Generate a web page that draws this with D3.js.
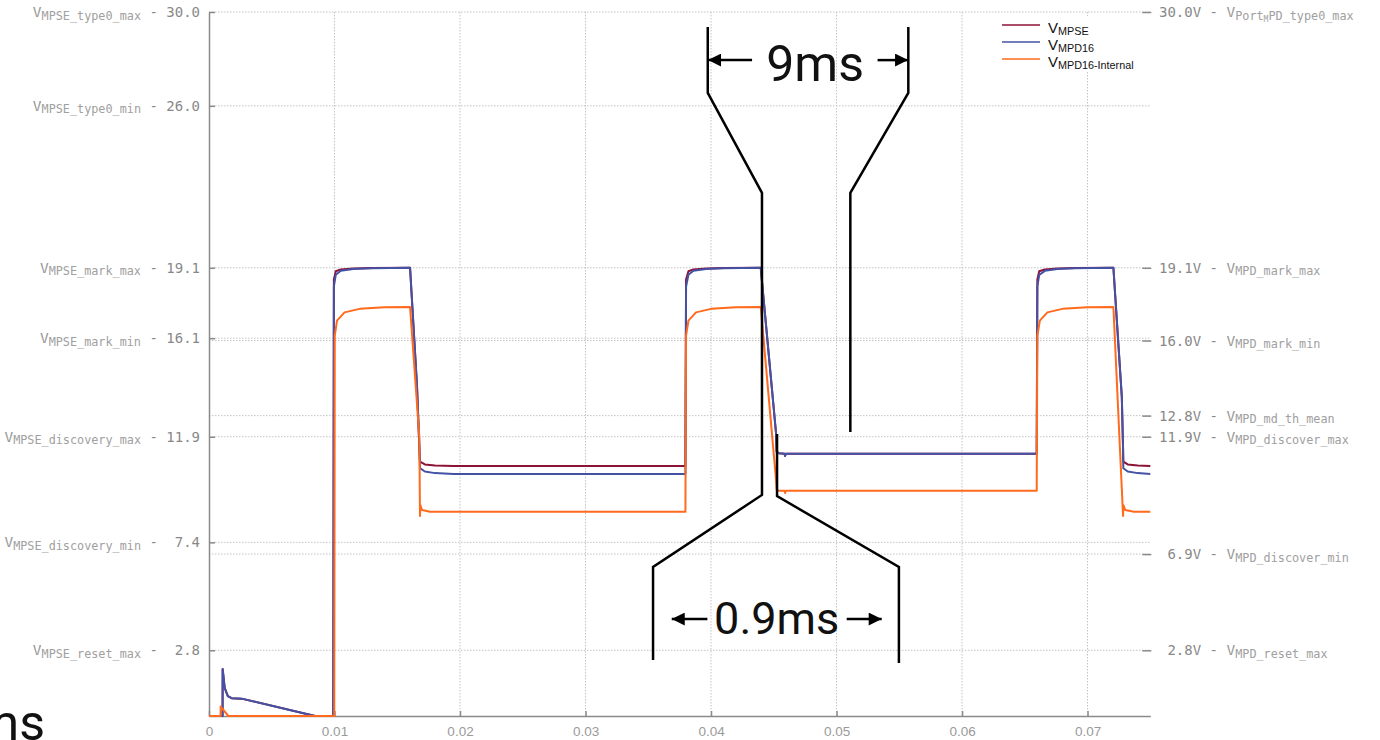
<!DOCTYPE html>
<html>
<head>
<meta charset="utf-8">
<script src="https://cdn.jsdelivr.net/npm/d3@7"></script>
<style>
  html, body { margin: 0; padding: 0; background: #fff; overflow: hidden; }
  svg { display: block; }
  text { white-space: pre; }
</style>
</head>
<body>
<svg id="chart" width="1380" height="740"></svg>
<script>
// left axis: PSE side thresholds
const leftTicks = [30.0, 26.0, 19.1, 16.1, 11.9, 7.4, 2.8];
const leftLabels = ["30.0", "26.0", "19.1", "16.1", "11.9", " 7.4", " 2.8"];
const leftNames = ["MPSE_type0_max", "MPSE_type0_min", "MPSE_mark_max", "MPSE_mark_min",
                   "MPSE_discovery_max", "MPSE_discovery_min", "MPSE_reset_max"];

// right axis: PD side thresholds ("|" splits a nested subscript)
const rightTicks = [30.0, 19.1, 16.0, 12.8, 11.9, 6.9, 2.8];
const rightLabels = ["30.0V", "19.1V", "16.0V", "12.8V", "11.9V", " 6.9V", " 2.8V"];
const rightNames = ["Port|M|PD_type0_max", "MPD_mark_max", "MPD_mark_min", "MPD_md_th_mean",
                    "MPD_discover_max", "MPD_discover_min", "MPD_reset_max"];

// time axis (seconds)
const timeTicks = [0, 0.01, 0.02, 0.03, 0.04, 0.05, 0.06, 0.07];

// series: [time (s), volts]
const vMPSE = [
  [0, 0], [0.00108, 0], [0.00109, 2.0], [0.00125, 1.2], [0.0015, 0.85], [0.0018, 0.76], [0.0026, 0.74],
  [0.00845, 0], [0.0099, 0],
  [0.00995, 18.6], [0.0101, 18.95], [0.0105, 19.03], [0.0115, 19.07], [0.013, 19.09], [0.01602, 19.1],
  [0.01657, 14.1], [0.01677, 11.33], [0.01681, 10.84], [0.0172, 10.72], [0.018, 10.67], [0.0195, 10.65],
  [0.03796, 10.65],
  [0.03801, 18.6], [0.0382, 18.95], [0.0386, 19.03], [0.0396, 19.07], [0.041, 19.09], [0.04396, 19.1],
  [0.04518, 12.05], [0.04523, 11.26], [0.0454, 11.2], [0.04586, 11.18], [0.0459, 11.08], [0.04596, 11.18],
  [0.06595, 11.18],
  [0.066, 18.6], [0.06615, 18.95], [0.0666, 19.03], [0.0676, 19.07], [0.069, 19.09], [0.07206, 19.1],
  [0.07273, 13.6], [0.07283, 11.4], [0.07285, 10.84], [0.0732, 10.72], [0.074, 10.67], [0.075, 10.65]
];

const vMPD16 = [
  [0, 0], [0.00108, 0], [0.00109, 2.0], [0.00125, 1.2], [0.0015, 0.85], [0.0018, 0.76], [0.0026, 0.74],
  [0.00845, 0], [0.0099, 0],
  [0.00995, 18.3], [0.0101, 18.8], [0.0105, 18.97], [0.0115, 19.05], [0.013, 19.08], [0.01602, 19.1],
  [0.01657, 14.1], [0.01677, 11.33], [0.01681, 10.56], [0.0172, 10.42], [0.018, 10.35], [0.0195, 10.31],
  [0.03796, 10.31],
  [0.03801, 18.3], [0.0382, 18.8], [0.0386, 18.97], [0.0396, 19.05], [0.041, 19.08], [0.04396, 19.1],
  [0.04518, 12.05], [0.04523, 11.26], [0.0454, 11.2], [0.04586, 11.18], [0.0459, 11.08], [0.04596, 11.18],
  [0.06595, 11.18],
  [0.066, 18.3], [0.06615, 18.8], [0.0666, 18.97], [0.0676, 19.05], [0.069, 19.08], [0.07206, 19.1],
  [0.07273, 13.6], [0.07283, 11.4], [0.07285, 10.56], [0.0732, 10.42], [0.074, 10.35], [0.075, 10.31]
];

const vMPD16Internal = [
  [0, 0], [0.00092, 0], [0.00093, 0.4], [0.00154, 0], [0.00998, 0],
  [0.01002, 16.2], [0.0102, 16.85], [0.0108, 17.2], [0.012, 17.35], [0.014, 17.42], [0.01602, 17.43],
  [0.01676, 11.89], [0.01681, 8.52], [0.01684, 8.99], [0.01697, 8.78], [0.01761, 8.7], [0.03796, 8.7],
  [0.03801, 16.2], [0.0382, 16.85], [0.0388, 17.2], [0.040, 17.35], [0.042, 17.42], [0.04396, 17.43],
  [0.04518, 10.06], [0.04523, 9.63], [0.0454, 9.6], [0.04586, 9.6], [0.0459, 9.5], [0.04596, 9.6],
  [0.06595, 9.6],
  [0.066, 16.2], [0.0662, 16.85], [0.0668, 17.2], [0.068, 17.35], [0.070, 17.42], [0.07206, 17.43],
  [0.07283, 8.52], [0.07286, 8.99], [0.073, 8.78], [0.0737, 8.7], [0.075, 8.7]
];

const seriesNames = ["MPSE", "MPD16", "MPD16-Internal"];
const seriesColors = ["#8c1236", "#4452a6", "#ff6a1c"];

// timing annotation brackets, [time, volts]
const bracketLeft = [[0.03974, 29.36], [0.03974, 26.55], [0.04406, 22.29], [0.04406, 9.42], [0.03538, 6.35], [0.03538, 2.39]];
const bracketRightTop = [[0.05572, 29.36], [0.05572, 26.55], [0.05110, 22.29], [0.05110, 12.10]];
const bracketRightBottom = [[0.04526, 12.02], [0.04526, 9.37], [0.05497, 6.35], [0.05497, 2.26]];
const arrows = [
  [[0.04327, 27.95], [0.03976, 27.95]],
  [[0.05327, 27.95], [0.05570, 27.95]],
  [[0.03971, 4.13], [0.03687, 4.13]],
  [[0.05081, 4.13], [0.05360, 4.13]]
];
const timingLabels = [["9ms", 0.04829, 27.06, 50], ["0.9ms", 0.04523, 3.49, 45]];

const svg = d3.select("#chart");
const plotLeft = 209, plotRight = 1150.3, plotTop = 12, plotBottom = 716;

const x = d3.scaleLinear().domain([0, 0.075]).range([plotLeft, plotRight]);
const y = d3.scaleLinear().domain([0, 30]).range([plotBottom, plotTop]);

const mono = "'DejaVu Sans Mono', monospace";
const sans = "'Liberation Sans', Arial, sans-serif";

// grid
const grid = svg.append("g").attr("stroke", "#c4c4c4").attr("stroke-width", 1).attr("stroke-dasharray", "1.5,1.5");
const gridLevels = Array.from(new Set(leftTicks.concat(rightTicks)));
grid.selectAll(".hg").data(gridLevels).join("line").attr("class", "hg")
  .attr("x1", plotLeft).attr("x2", plotRight)
  .attr("y1", d => y(d)).attr("y2", d => y(d));
grid.selectAll(".vg").data(timeTicks.slice(1)).join("line").attr("class", "vg")
  .attr("x1", d => x(d)).attr("x2", d => x(d))
  .attr("y1", plotTop).attr("y2", plotBottom);

// axes
const axisColor = "#8a8a8a";
const bottomAxis = svg.append("g")
  .attr("transform", "translate(0," + plotBottom + ")")
  .call(d3.axisBottom(x).tickValues(timeTicks).tickSizeInner(-5).tickSizeOuter(0).tickPadding(10)
    .tickFormat(d => d === 0 ? "0" : d3.format(".2f")(d)));
bottomAxis.select(".domain").attr("stroke", axisColor).attr("stroke-width", 1.5);
bottomAxis.selectAll(".tick line").attr("stroke", axisColor).attr("stroke-width", 1.5);
bottomAxis.selectAll(".tick text").attr("fill", "#9a9a9a").attr("font-family", sans).attr("font-size", 13.5);

const leftAxis = svg.append("g")
  .attr("transform", "translate(" + plotLeft + ",0)")
  .call(d3.axisLeft(y).tickValues(leftTicks).tickSizeInner(-6).tickSizeOuter(0).tickFormat(""));
leftAxis.select(".domain").attr("stroke", axisColor).attr("stroke-width", 1.5);
leftAxis.selectAll(".tick line").attr("stroke", axisColor).attr("stroke-width", 1.5);

const rightAxis = svg.append("g")
  .attr("transform", "translate(" + (plotRight + 1) + ",0)")
  .call(d3.axisRight(y).tickValues(rightTicks).tickSizeInner(-9).tickSizeOuter(0).tickFormat(""));
rightAxis.select(".domain").remove();
rightAxis.selectAll(".tick line").attr("stroke", axisColor).attr("stroke-width", 1.5);

// left labels
leftTicks.forEach((v, i) => {
  const t = svg.append("text")
    .attr("x", 200).attr("y", y(v) + 5)
    .attr("text-anchor", "end").attr("font-family", mono).attr("fill", "#888");
  t.append("tspan").attr("font-size", 14.5).attr("fill", "#999").text("V");
  t.append("tspan").attr("font-size", 11.8).attr("dy", 2.5).attr("fill", "#a0a0a0").text(leftNames[i]);
  t.append("tspan").attr("font-size", 14).attr("dy", -2.5).text(" - " + leftLabels[i]);
});

// right labels
rightTicks.forEach((v, i) => {
  const t = svg.append("text")
    .attr("x", 1159).attr("y", y(v) + 5)
    .attr("font-family", mono).attr("fill", "#888");
  t.append("tspan").attr("font-size", 14).text(rightLabels[i] + " - ");
  t.append("tspan").attr("font-size", 14.5).attr("fill", "#999").text("V");
  const parts = rightNames[i].split("|");
  if (parts.length === 1) {
    t.append("tspan").attr("font-size", 11.8).attr("dy", 2.5).attr("fill", "#a0a0a0").text(parts[0]);
  } else {
    t.append("tspan").attr("font-size", 11.8).attr("dy", 2.5).attr("fill", "#a0a0a0").text(parts[0]);
    t.append("tspan").attr("font-size", 8).attr("dy", 2).attr("fill", "#a0a0a0").text(parts[1]);
    t.append("tspan").attr("font-size", 11.8).attr("dy", -2).attr("fill", "#a0a0a0").text(parts[2]);
  }
});

// legend
const legend = svg.append("g");
legend.append("rect").attr("x", 996).attr("y", 16).attr("width", 146).attr("height", 56).attr("fill", "#fff");
seriesNames.forEach((name, i) => {
  const ly = 25 + i * 17;
  legend.append("line").attr("x1", 1002).attr("x2", 1040).attr("y1", ly).attr("y2", ly)
    .attr("stroke", seriesColors[i]).attr("stroke-width", 1.5);
  const t = legend.append("text").attr("x", 1048).attr("y", ly + 8)
    .attr("font-family", sans).attr("fill", "#111");
  t.append("tspan").attr("font-size", 15).text("V");
  t.append("tspan").attr("font-size", 10.8).attr("dy", 2).text(name);
});

// waveforms
const line = d3.line().x(d => x(d[0])).y(d => y(d[1]));
[vMPSE, vMPD16, vMPD16Internal].forEach((data, i) => {
  svg.append("path")
    .datum(data)
    .attr("fill", "none")
    .attr("stroke", seriesColors[i])
    .attr("stroke-width", 2)
    .attr("stroke-linejoin", "round")
    .attr("d", line);
});

// timing annotations
svg.append("defs").append("marker")
  .attr("id", "arrowhead").attr("viewBox", "0 0 10 10")
  .attr("refX", 10).attr("refY", 5)
  .attr("markerUnits", "userSpaceOnUse")
  .attr("markerWidth", 14).attr("markerHeight", 13)
  .attr("orient", "auto")
  .append("path").attr("d", "M0,0L10,5L0,10Z").attr("fill", "#000");

const ann = svg.append("g").attr("fill", "none").attr("stroke", "#000").attr("stroke-width", 2.5);
[bracketLeft, bracketRightTop, bracketRightBottom].forEach(b => {
  ann.append("path").datum(b).attr("d", line).attr("stroke-linejoin", "miter");
});
arrows.forEach(a => {
  ann.append("path").datum(a).attr("d", line).attr("marker-end", "url(#arrowhead)");
});
timingLabels.forEach(l => {
  svg.append("text")
    .attr("x", x(l[1])).attr("y", y(l[2]))
    .attr("text-anchor", "middle")
    .attr("font-family", "Roboto, sans-serif")
    .attr("font-size", l[3])
    .attr("fill", "#111")
    .text(l[0]);
});

// clipped caption fragment at the bottom-left edge
svg.append("text")
  .attr("x", 45).attr("y", 740)
  .attr("text-anchor", "end")
  .attr("font-family", "Roboto, sans-serif")
  .attr("font-size", 50)
  .attr("fill", "#111")
  .text("ms");
</script>
</body>
</html>
